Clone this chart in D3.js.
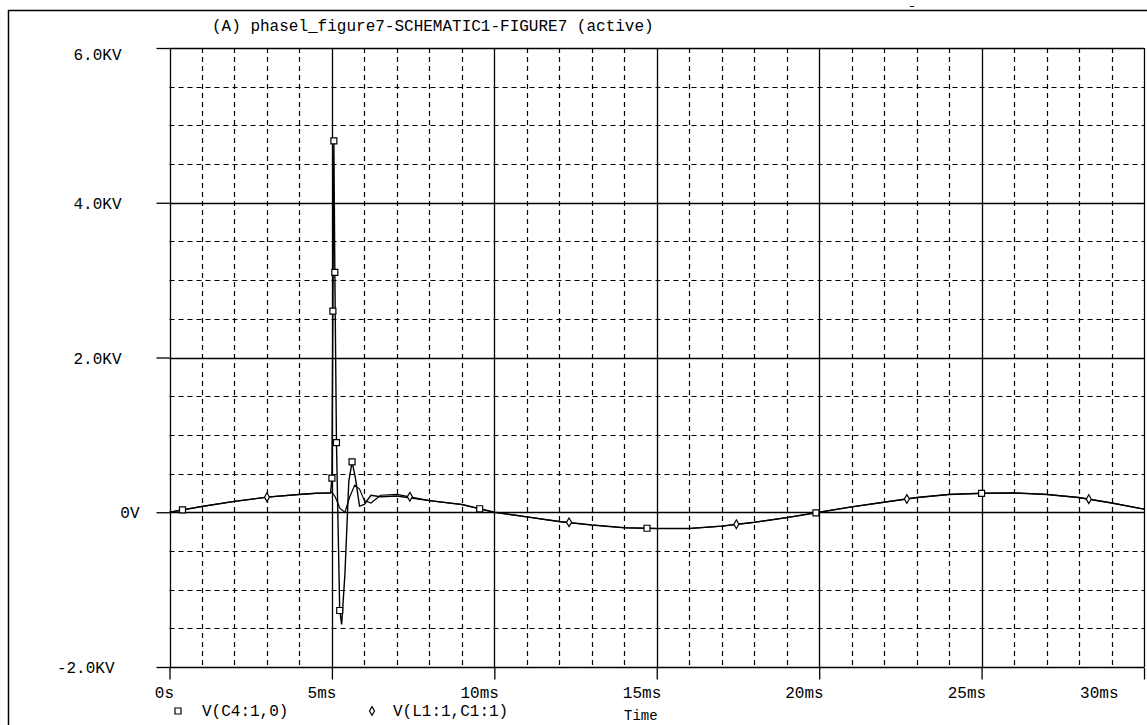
<!DOCTYPE html>
<html>
<head>
<meta charset="utf-8">
<script src="https://cdn.jsdelivr.net/npm/d3@7"></script>
<style>
  html, body { margin: 0; padding: 0; background: #fff; }
  svg { display: block; }
  text { font-family: "Liberation Mono", "DejaVu Sans Mono", monospace; font-size: 16px; fill: #000; }
</style>
</head>
<body>
<svg id="chart" width="1147" height="725"></svg>
<script>
// Transient simulation traces (time in ms, voltage in kV)
const c4Time = [0, 1, 2, 3, 4, 4.5, 4.96, 5.0, 5.03, 5.06, 5.09, 5.14, 5.24, 5.30, 5.40, 5.52, 5.62, 5.72, 5.85, 6.0, 6.2, 6.5, 7, 8, 9, 10, 11, 12, 13, 14, 15, 16, 17, 18, 19, 20, 21, 22, 23, 24, 25, 26, 27, 28, 29, 30];
const c4Volt = [0, 0.075, 0.14, 0.195, 0.23, 0.245, 0.25, 0.44, 2.6, 4.8, 3.1, 0.9, -1.27, -1.45, -0.8, 0.4, 0.65, 0.45, 0.08, 0.1, 0.22, 0.2, 0.21, 0.15, 0.1, 0.0, -0.06, -0.12, -0.165, -0.2, -0.21, -0.21, -0.18, -0.13, -0.07, 0.0, 0.07, 0.13, 0.19, 0.23, 0.245, 0.25, 0.23, 0.19, 0.12, 0.04];

const l1Time = [0, 1, 2, 3, 4, 4.5, 4.96, 5.0, 5.1, 5.25, 5.4, 5.55, 5.7, 5.85, 6.0, 6.2, 6.5, 7, 8, 9, 10, 11, 12, 13, 14, 15, 16, 17, 18, 19, 20, 21, 22, 23, 24, 25, 26, 27, 28, 29, 30];
const l1Volt = [0, 0.075, 0.14, 0.195, 0.23, 0.245, 0.25, 0.26, 0.2, 0.05, 0.0, 0.2, 0.35, 0.3, 0.15, 0.12, 0.22, 0.23, 0.15, 0.1, 0.0, -0.06, -0.12, -0.165, -0.2, -0.21, -0.21, -0.18, -0.13, -0.07, 0.0, 0.07, 0.13, 0.19, 0.23, 0.245, 0.25, 0.23, 0.19, 0.12, 0.04];

// Trace symbols placed along each trace
const c4MarkTime = [0.4, 5.0, 5.03, 5.06, 5.09, 5.14, 5.24, 5.62, 9.55, 14.7, 19.9, 25.0];
const c4MarkVolt = [0.03, 0.44, 2.6, 4.8, 3.1, 0.9, -1.27, 0.65, 0.045, -0.207, -0.007, 0.245];
const l1MarkTime = [3.0, 7.4, 12.3, 17.45, 22.7, 28.3];
const l1MarkVolt = [0.195, 0.2, -0.13, -0.155, 0.172, 0.169];

// Axis ticks
const xMajor = [0, 5, 10, 15, 20, 25, 30];
const xLabels = ["0s", "5ms", "10ms", "15ms", "20ms", "25ms", "30ms"];
const yMajor = [-2, 0, 2, 4, 6];
const yLabels = ["-2.0KV", "0V", "2.0KV", "4.0KV", "6.0KV"];

const title = "(A) phasel_figure7-SCHEMATIC1-FIGURE7 (active)";
const legendNames = ["V(C4:1,0)", "V(L1:1,C1:1)"];
const xTitle = "Time";

const svg = d3.select("#chart");
const plotLeft = 169.5, plotRight = 1144, plotTop = 48, plotBottom = 667;

const x = d3.scaleLinear().domain([0, 30]).range([plotLeft, plotRight]);
const y = d3.scaleLinear().domain([-2, 6]).range([plotBottom, plotTop]);

// Window frame
svg.append("line").attr("x1", 8).attr("x2", 1147).attr("y1", 10.5).attr("y2", 10.5)
  .attr("stroke", "#000").attr("stroke-width", 1.5);
svg.append("line").attr("x1", 8.5).attr("x2", 8.5).attr("y1", 10).attr("y2", 725)
  .attr("stroke", "#000").attr("stroke-width", 1.5);
svg.append("line").attr("x1", 910).attr("x2", 914).attr("y1", 6.5).attr("y2", 6.5)
  .attr("stroke", "#000").attr("stroke-width", 1);

// Title
svg.append("text").attr("x", 212).attr("y", 31).text(title);

// Minor grid (dashed)
const xMinor = d3.range(1, 30).filter(v => v % 5 !== 0);
const yMinor = d3.range(-1.5, 6, 0.5).filter(v => Math.abs(v % 2) > 1e-9);
const grid = svg.append("g");
grid.selectAll(".vminor").data(xMinor).join("line")
  .attr("x1", d => Math.round(x(d)) + 0.5).attr("x2", d => Math.round(x(d)) + 0.5)
  .attr("y1", plotTop).attr("y2", plotBottom)
  .attr("stroke", "#000").attr("stroke-width", 1.2).attr("stroke-dasharray", "5,4");
grid.selectAll(".hminor").data(yMinor).join("line")
  .attr("x1", plotLeft).attr("x2", plotRight)
  .attr("y1", d => Math.round(y(d)) + 0.5).attr("y2", d => Math.round(y(d)) + 0.5)
  .attr("stroke", "#000").attr("stroke-width", 1.2).attr("stroke-dasharray", "5,4");

// Major grid (solid)
grid.selectAll(".vmajor").data(xMajor).join("line")
  .attr("x1", d => Math.round(x(d)) + 0.5).attr("x2", d => Math.round(x(d)) + 0.5)
  .attr("y1", plotTop).attr("y2", plotBottom)
  .attr("stroke", "#000").attr("stroke-width", 1.3);
grid.selectAll(".hmajor").data(yMajor).join("line")
  .attr("x1", plotLeft).attr("x2", plotRight)
  .attr("y1", d => Math.round(y(d)) + 0.5).attr("y2", d => Math.round(y(d)) + 0.5)
  .attr("stroke", "#000").attr("stroke-width", 1.3);

// Axes
const xAxis = d3.axisBottom(x).tickValues(xMajor).tickSize(12).tickSizeOuter(0)
  .tickFormat((d, i) => xLabels[i]);
const gx = svg.append("g").attr("transform", `translate(0,${Math.round(y(-2)) + 0.5})`).call(xAxis);
gx.select(".domain").remove();
gx.selectAll(".tick line").attr("stroke", "#000").attr("stroke-width", 1.3);
gx.selectAll(".tick text")
  .attr("text-anchor", "end").attr("y", 30).attr("dy", 0)
  .attr("x", (d, i) => i === xMajor.length - 1 ? -26 : 4)
  .style("font-family", "Liberation Mono").style("font-size", "16px");

const yAxis = d3.axisLeft(y).tickValues(yMajor).tickSize(13).tickSizeOuter(0)
  .tickFormat((d, i) => yLabels[i]);
const gy = svg.append("g").attr("transform", `translate(${plotLeft},0)`).call(yAxis);
gy.select(".domain").remove();
gy.selectAll(".tick line").attr("stroke", "#000").attr("stroke-width", 1.3);
gy.selectAll(".tick text")
  .attr("text-anchor", "end").attr("dy", d => d === 6 ? "0.7em" : "0.35em")
  .attr("x", d => d === 0 ? -30 : d < 0 ? -55 : -48)
  .style("font-family", "Liberation Mono").style("font-size", "16px");

// Traces
const line = d3.line().x(d => x(d[0])).y(d => y(d[1]));
const c4 = c4Time.map((t, i) => [t, c4Volt[i]]);
const l1 = l1Time.map((t, i) => [t, l1Volt[i]]);
const plot = svg.append("g");
plot.append("path").datum(l1).attr("d", line)
  .attr("fill", "none").attr("stroke", "#000").attr("stroke-width", 1.2);
plot.append("path").datum(c4).attr("d", line)
  .attr("fill", "none").attr("stroke", "#000").attr("stroke-width", 1.4);

// Symbols
const sq = d3.symbol().type(d3.symbolSquare).size(36);
const dm = d3.symbol().type(d3.symbolDiamond).size(22);
plot.selectAll(".c4m").data(c4MarkTime.map((t, i) => [t, c4MarkVolt[i]])).join("path")
  .attr("d", sq).attr("transform", d => `translate(${x(d[0])},${y(d[1])})`)
  .attr("fill", "#fff").attr("stroke", "#000").attr("stroke-width", 1.2);
plot.selectAll(".l1m").data(l1MarkTime.map((t, i) => [t, l1MarkVolt[i]])).join("path")
  .attr("d", dm).attr("transform", d => `translate(${x(d[0])},${y(d[1])})`)
  .attr("fill", "#fff").attr("stroke", "#000").attr("stroke-width", 1.2);

// Legend
const legend = svg.append("g");
legend.append("path").attr("d", sq).attr("transform", "translate(178,711)")
  .attr("fill", "#fff").attr("stroke", "#000").attr("stroke-width", 1.2);
legend.append("text").attr("x", 202).attr("y", 716).text(legendNames[0]);
legend.append("path").attr("d", dm).attr("transform", "translate(372,711)")
  .attr("fill", "#fff").attr("stroke", "#000").attr("stroke-width", 1.2);
legend.append("text").attr("x", 393).attr("y", 716).text(legendNames[1]);

// Time axis caption
svg.append("text").attr("x", 624).attr("y", 720).style("font-size", "14px").text(xTitle);
</script>
</body>
</html>
